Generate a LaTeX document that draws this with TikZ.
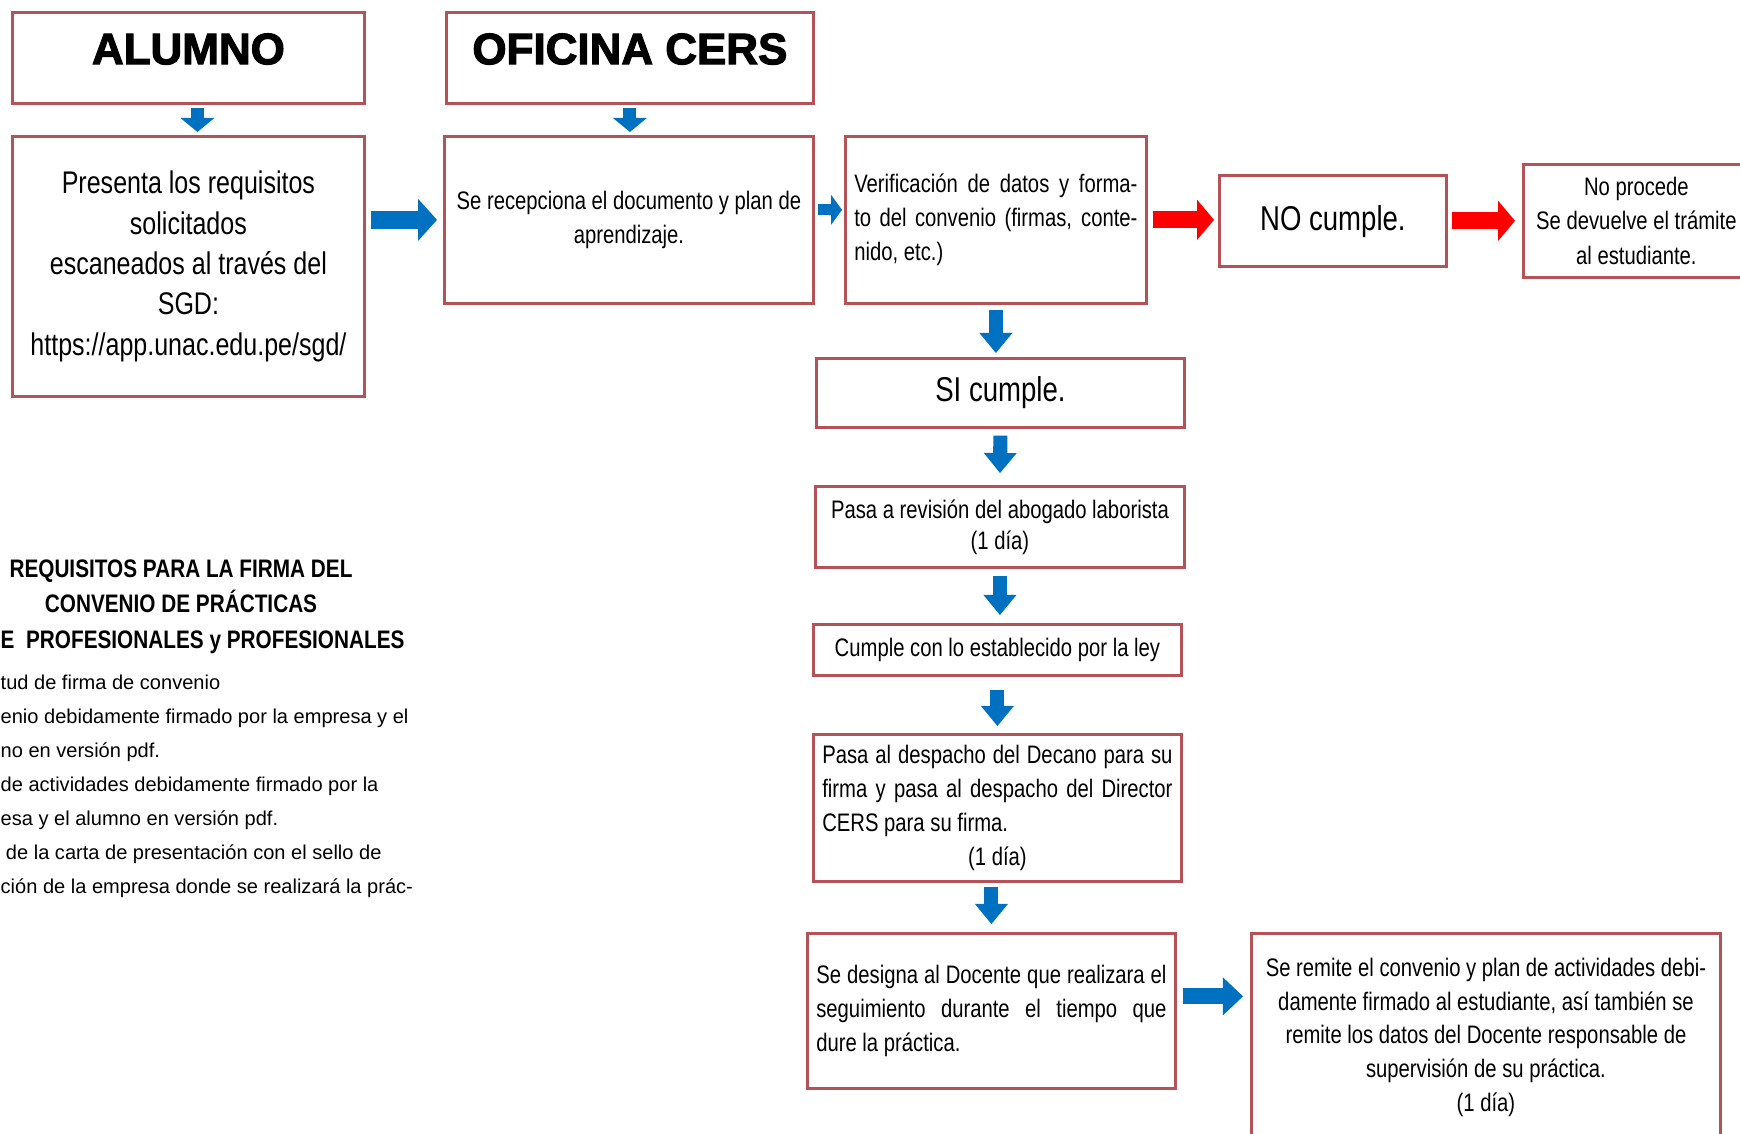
\documentclass[tikz,border=0pt]{standalone}
\usepackage{fontspec}
\setmainfont{Liberation Sans}[FakeStretch=0.8]
\newfontface\titulofont{Liberation Sans Bold}[FakeBold=2.5]
\newfontface\reqfont{Liberation Sans Bold}[FakeStretch=0.82]
\newfontface\listafont{Liberation Sans}
\usetikzlibrary{arrows.meta}
\definecolor{borde}{RGB}{180,82,88}
\definecolor{azul}{RGB}{0,112,192}
\definecolor{rojo}{RGB}{255,0,0}

\begin{document}
\begin{tikzpicture}[x=0.01cm, y=-0.01cm,
    caja/.style={draw=borde, line width=0.75pt, fill=white, anchor=north west,
      inner sep=0.09cm, font=\fontsize{7.2}{9.6}\selectfont},
    titulo/.style={caja, minimum height=0.91cm, text depth=0.18cm,
      font=\titulofont\fontsize{12.5}{14}\selectfont},
    flecha/.style n args={3}{line width=#1,
      -{Triangle[width=#2, length=#3, line width=0pt]}}]
    \path[use as bounding box, clip] (0,0) rectangle (1740,1134);

    % Encabezados
    \node[titulo, minimum width=3.52cm] (alumno) at (11,11) {ALUMNO};
    \node[titulo, minimum width=3.67cm] (oficina) at (445,11) {OFICINA CERS};

    % Fila superior
    \node[caja, minimum width=3.52cm, minimum height=2.60cm, align=center,
          font=\fontsize{8.9}{11.5}\selectfont] (presenta) at (11,135)
          {Presenta los requisitos\\solicitados\\escaneados al través del\\SGD:\\https://app.unac.edu.pe/sgd/};
    \node[caja, minimum width=3.69cm, minimum height=1.67cm, align=center] (recep) at (443,135)
          {Se recepciona el documento y plan de\\aprendizaje.};
    \node[caja, minimum width=3.01cm, minimum height=1.67cm, text width=2.83cm, align=justify] (verif) at (844,135)
          {Verificación de datos y forma-\linebreak to del convenio (firmas, conte-\linebreak nido, etc.)};
    \node[caja, minimum width=2.27cm, minimum height=0.91cm, text depth=0.05cm,
          font=\fontsize{9.8}{12}\selectfont] (nocumple) at (1218,174) {NO cumple.};
    \node[caja, minimum width=2.26cm, minimum height=1.13cm, align=center,
          font=\fontsize{7.2}{9.8}\selectfont] (noprocede) at (1522,163)
          {No procede\\Se devuelve el trámite\\al estudiante.};

    % Columna central
    \node[caja, minimum width=3.68cm, minimum height=0.69cm,
          font=\fontsize{9.8}{12}\selectfont] (sicumple) at (815,357) {SI cumple.};
    \node[caja, minimum width=3.69cm, minimum height=0.81cm, align=center,
          font=\fontsize{7.2}{8.8}\selectfont] (revision) at (814,485)
          {Pasa a revisión del abogado laborista\\(1 día)};
    \node[caja, minimum width=3.68cm, minimum height=0.51cm] (ley) at (812,623)
          {Cumple con lo establecido por la ley};
    \node[caja, minimum width=3.68cm, minimum height=1.47cm, text width=3.50cm, align=justify] (despacho) at (812,733)
          {Pasa al despacho del Decano para su\linebreak firma y pasa al despacho del Director\linebreak CERS para su firma.\par
           {\centering (1 día)\par}};
    \node[caja, minimum width=3.68cm, minimum height=1.55cm, text width=3.50cm, align=justify] (designa) at (806,932)
          {Se designa al Docente que realizara el\linebreak seguimiento durante el tiempo que\linebreak dure la práctica.};
    \node[caja, minimum width=4.69cm, minimum height=2.08cm, align=center] (remite) at (1250,932)
          {Se remite el convenio y plan de actividades debi-\\damente firmado al estudiante, así también se\\remite los datos del Docente responsable de\\supervisión de su práctica.\\(1 día)};

    % Requisitos
    \node[anchor=north, align=center, inner sep=0pt,
          font=\reqfont\fontsize{7.2}{10.1}\selectfont] (req) at (181,559)
          {REQUISITOS PARA LA FIRMA DEL\\CONVENIO DE PRÁCTICAS};
    \node[anchor=north west, inner sep=0pt,
          font=\reqfont\fontsize{7.2}{10.1}\selectfont] (reqb) at (0,630)
          {E\ \ PROFESIONALES y PROFESIONALES};
    \node[anchor=north west, align=left, inner sep=0pt,
          font=\listafont\fontsize{5.7}{9.7}\selectfont] (lista) at (0,674)
          {tud de firma de convenio\\enio debidamente firmado por la empresa y el\\no en versión pdf.\\de actividades debidamente firmado por la\\esa y el alumno en versión pdf.\\\hspace{1.5pt}de la carta de presentación con el sello de\\ción de la empresa donde se realizará la prác-};

    % Flechas azules
    \draw[azul, flecha={3.7pt}{9.7pt}{4pt}, shorten <=0.03cm, shorten >=0.03cm]
        ([xshift=0.09cm]alumno.south) -- ([xshift=0.09cm]alumno.south |- presenta.north);
    \draw[azul, flecha={3.7pt}{9.7pt}{4pt}, shorten <=0.03cm, shorten >=0.03cm]
        (oficina.south) -- (oficina.south |- recep.north);
    \draw[azul, flecha={5.1pt}{12pt}{5.4pt}, shorten <=0.05cm, shorten >=0.06cm]
        (presenta.east |- recep.west) -- (recep.west);
    \draw[azul, flecha={3.1pt}{8.5pt}{3.1pt}, shorten <=0.03cm, shorten >=0.02cm]
        ([yshift=0.1cm]recep.east) -- ([yshift=0.1cm]verif.west);
    \draw[azul, flecha={4pt}{9.4pt}{5.7pt}, shorten <=0.05cm, shorten >=0.04cm]
        (verif.south) -- (verif.south |- sicumple.north);
    \draw[azul, flecha={4pt}{9.4pt}{5.7pt}, shorten <=0.07cm, shorten >=0.12cm]
        (sicumple.south) -- (revision.north);
    \draw[azul, flecha={4pt}{9.4pt}{5.7pt}, shorten <=0.07cm, shorten >=0.08cm]
        (revision.south) -- (revision.south |- ley.north);
    \draw[azul, flecha={4pt}{9.4pt}{5.7pt}, shorten <=0.13cm, shorten >=0.07cm]
        (ley.south) -- (ley.south |- despacho.north);
    \draw[azul, flecha={4pt}{9.4pt}{5.7pt}, shorten <=0.04cm, shorten >=0.08cm]
        (designa.north |- despacho.south) -- (designa.north);
    \draw[azul, flecha={4.6pt}{10.8pt}{5.7pt}, shorten <=0.06cm, shorten >=0.07cm]
        ([yshift=0.145cm]designa.east) -- ([yshift=0.145cm]remite.west |- designa.east);

    % Flechas rojas
    \draw[rojo, flecha={4.8pt}{11.4pt}{4.8pt}, shorten <=0.05cm, shorten >=0.04cm]
        (verif.east) -- (verif.east -| nocumple.west);
    \draw[rojo, flecha={4.8pt}{11.4pt}{4.8pt}, shorten <=0.04cm, shorten >=0.07cm]
        (nocumple.east) -- (nocumple.east -| noprocede.west);
\end{tikzpicture}
\end{document}
